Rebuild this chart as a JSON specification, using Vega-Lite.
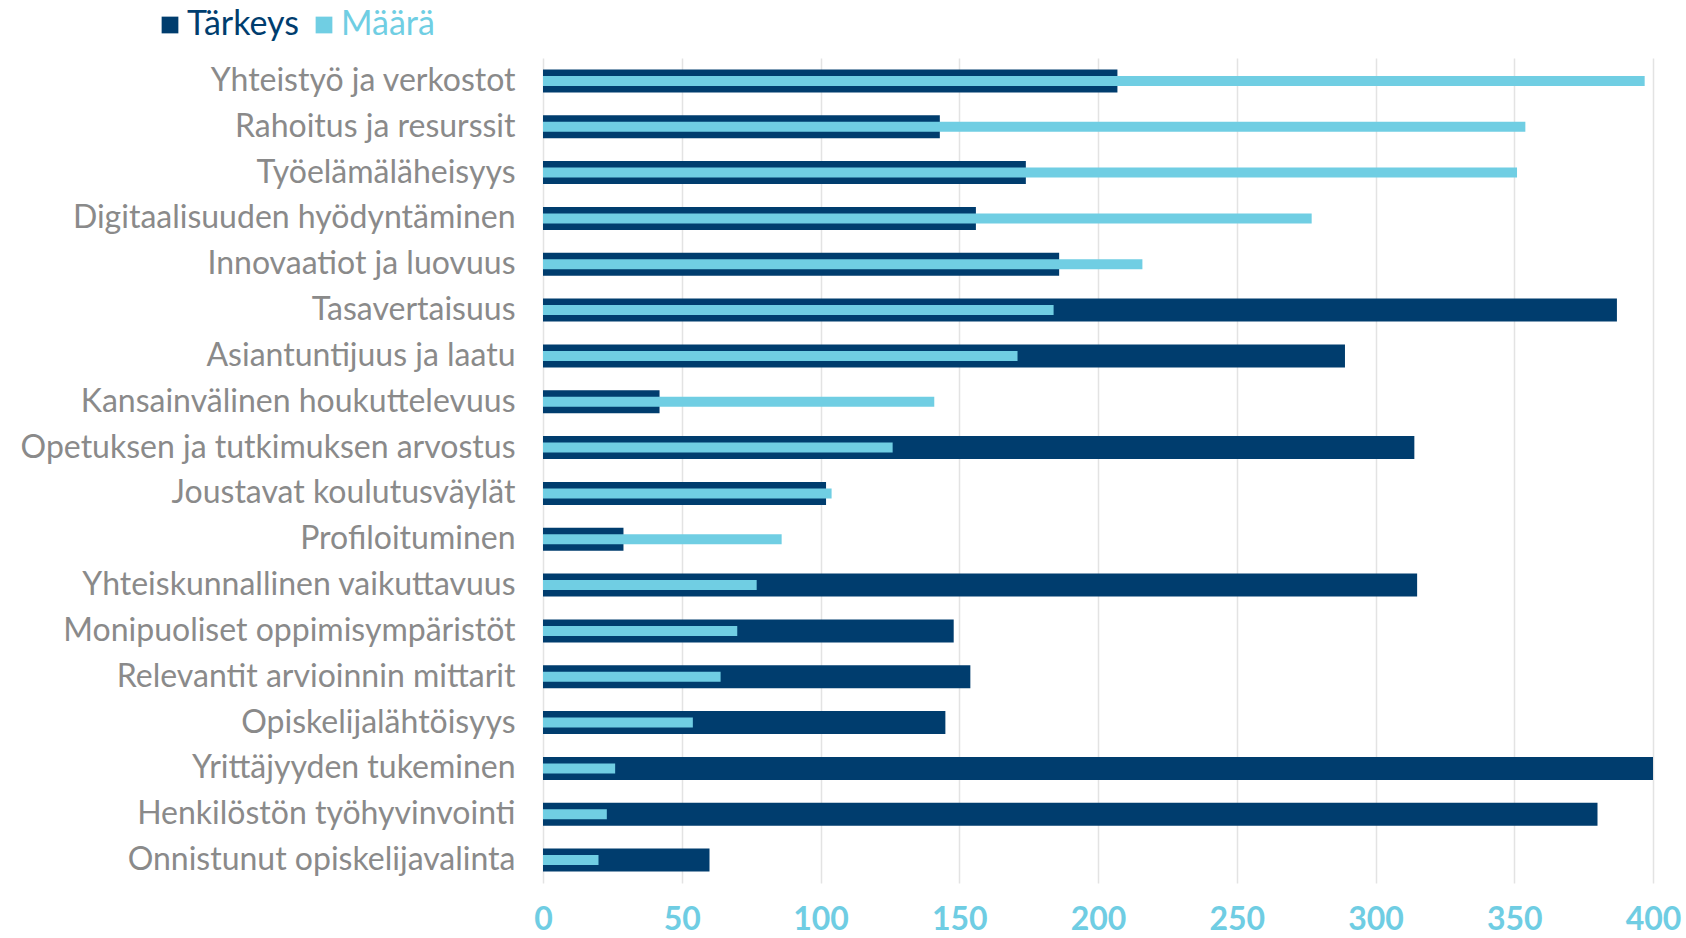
{
  "$schema": "https://vega.github.io/schema/vega-lite/v6.json",
  "autosize": {"type": "none"},
  "width": 1110,
  "height": 825,
  "padding": {"left": 543, "top": 58, "right": 33, "bottom": 55},
  "background": "#ffffff",
  "config": {
    "view": {"stroke": null},
    "font": "Lato"
  },
  "data": {
    "values": [
      {"kategoria": "Yhteistyö ja verkostot", "sarja": "Tärkeys", "arvo": 207},
      {"kategoria": "Rahoitus ja resurssit", "sarja": "Tärkeys", "arvo": 143},
      {"kategoria": "Työelämäläheisyys", "sarja": "Tärkeys", "arvo": 174},
      {"kategoria": "Digitaalisuuden hyödyntäminen", "sarja": "Tärkeys", "arvo": 156},
      {"kategoria": "Innovaatiot ja luovuus", "sarja": "Tärkeys", "arvo": 186},
      {"kategoria": "Tasavertaisuus", "sarja": "Tärkeys", "arvo": 387},
      {"kategoria": "Asiantuntijuus ja laatu", "sarja": "Tärkeys", "arvo": 289},
      {"kategoria": "Kansainvälinen houkuttelevuus", "sarja": "Tärkeys", "arvo": 42},
      {"kategoria": "Opetuksen ja tutkimuksen arvostus", "sarja": "Tärkeys", "arvo": 314},
      {"kategoria": "Joustavat koulutusväylät", "sarja": "Tärkeys", "arvo": 102},
      {"kategoria": "Profiloituminen", "sarja": "Tärkeys", "arvo": 29},
      {"kategoria": "Yhteiskunnallinen vaikuttavuus", "sarja": "Tärkeys", "arvo": 315},
      {"kategoria": "Monipuoliset oppimisympäristöt", "sarja": "Tärkeys", "arvo": 148},
      {"kategoria": "Relevantit arvioinnin mittarit", "sarja": "Tärkeys", "arvo": 154},
      {"kategoria": "Opiskelijalähtöisyys", "sarja": "Tärkeys", "arvo": 145},
      {"kategoria": "Yrittäjyyden tukeminen", "sarja": "Tärkeys", "arvo": 400},
      {"kategoria": "Henkilöstön työhyvinvointi", "sarja": "Tärkeys", "arvo": 380},
      {"kategoria": "Onnistunut opiskelijavalinta", "sarja": "Tärkeys", "arvo": 60},
      {"kategoria": "Yhteistyö ja verkostot", "sarja": "Määrä", "arvo": 397},
      {"kategoria": "Rahoitus ja resurssit", "sarja": "Määrä", "arvo": 354},
      {"kategoria": "Työelämäläheisyys", "sarja": "Määrä", "arvo": 351},
      {"kategoria": "Digitaalisuuden hyödyntäminen", "sarja": "Määrä", "arvo": 277},
      {"kategoria": "Innovaatiot ja luovuus", "sarja": "Määrä", "arvo": 216},
      {"kategoria": "Tasavertaisuus", "sarja": "Määrä", "arvo": 184},
      {"kategoria": "Asiantuntijuus ja laatu", "sarja": "Määrä", "arvo": 171},
      {"kategoria": "Kansainvälinen houkuttelevuus", "sarja": "Määrä", "arvo": 141},
      {"kategoria": "Opetuksen ja tutkimuksen arvostus", "sarja": "Määrä", "arvo": 126},
      {"kategoria": "Joustavat koulutusväylät", "sarja": "Määrä", "arvo": 104},
      {"kategoria": "Profiloituminen", "sarja": "Määrä", "arvo": 86},
      {"kategoria": "Yhteiskunnallinen vaikuttavuus", "sarja": "Määrä", "arvo": 77},
      {"kategoria": "Monipuoliset oppimisympäristöt", "sarja": "Määrä", "arvo": 70},
      {"kategoria": "Relevantit arvioinnin mittarit", "sarja": "Määrä", "arvo": 64},
      {"kategoria": "Opiskelijalähtöisyys", "sarja": "Määrä", "arvo": 54},
      {"kategoria": "Yrittäjyyden tukeminen", "sarja": "Määrä", "arvo": 26},
      {"kategoria": "Henkilöstön työhyvinvointi", "sarja": "Määrä", "arvo": 23},
      {"kategoria": "Onnistunut opiskelijavalinta", "sarja": "Määrä", "arvo": 20}
    ]
  },
  "encoding": {
    "y": {
      "field": "kategoria",
      "type": "nominal",
      "sort": null,
      "title": null,
      "axis": {
        "domain": false,
        "ticks": false,
        "labelFontSize": 32,
        "labelColor": "#8a8a8a",
        "labelPadding": 28,
        "labelLimit": 600,
        "grid": false
      }
    },
    "x": {
      "field": "arvo",
      "type": "quantitative",
      "scale": {"domain": [0, 400], "nice": false},
      "title": null,
      "axis": {
        "values": [0, 50, 100, 150, 200, 250, 300, 350, 400],
        "domain": false,
        "ticks": false,
        "grid": true,
        "gridColor": "#e3e3e3",
        "gridWidth": 1.5,
        "labelFontSize": 32,
        "labelFontWeight": "bold",
        "labelColor": "#6fcde3",
        "labelPadding": 21,
        "labelFlush": false
      }
    },
    "color": {
      "field": "sarja",
      "type": "nominal",
      "scale": {"domain": ["Tärkeys", "Määrä"], "range": ["#003d6e", "#70cee3"]},
      "legend": {
        "title": null,
        "orient": "none",
        "direction": "horizontal",
        "legendX": -390,
        "legendY": -50,
        "symbolType": "square",
        "symbolSize": 280,
        "symbolStrokeWidth": 0,
        "labelFontSize": 34,
        "labelOffset": 0,
        "columnPadding": 8,
        "encode": {
          "labels": {
            "update": {
              "fill": {"signal": "datum.value === 'Tärkeys' ? '#003d6e' : '#70cee3'"}
            }
          }
        }
      }
    }
  },
  "layer": [
    {
      "transform": [{"filter": "datum.sarja === 'Tärkeys'"}],
      "mark": {"type": "bar", "size": 23}
    },
    {
      "transform": [{"filter": "datum.sarja === 'Määrä'"}],
      "mark": {"type": "bar", "size": 10}
    }
  ]
}
